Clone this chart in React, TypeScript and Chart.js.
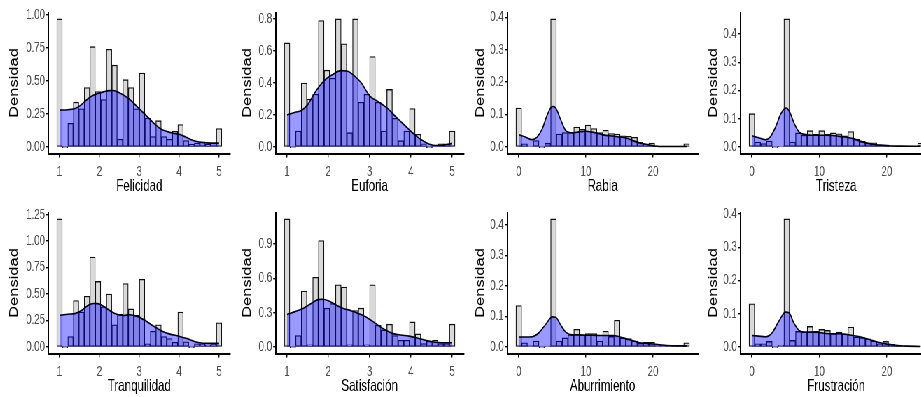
import React, { useEffect, useRef } from 'react';
import { Chart, registerables } from 'chart.js';

Chart.register(...registerables);

const FONT = "'Liberation Sans', Arial, Helvetica, sans-serif";
Chart.defaults.font.family = FONT;

// ---------- data ----------
const likertRange = [1, 5];
const scoreRange = [0, 25];
const likertTicks = ['1', '2', '3', '4', '5'];
const scoreTicks = ['0', '10', '20'];

const yTicksFelicidad = ['0.00', '0.25', '0.50', '0.75', '1.00'];
const yTicksEuforia = ['0.0', '0.2', '0.4', '0.6', '0.8'];
const yTicksTenth = ['0.0', '0.1', '0.2', '0.3', '0.4'];
const yTicksTranquilidad = ['0.00', '0.25', '0.50', '0.75', '1.00', '1.25'];
const yTicksSatisfacion = ['0.0', '0.3', '0.6', '0.9'];

const felicidadBars = [0.97, 0.0, 0.18, 0.34, 0.29, 0.45, 0.76, 0.42, 0.36, 0.74, 0.62, 0.06, 0.51, 0.45, 0.29, 0.56, 0.22, 0.08, 0.20, 0.08, 0.06, 0.12, 0.17, 0.05, 0.02, 0.03, 0.04, 0.02, 0.03, 0.14];
const felicidadDensX = [1.0, 1.2, 1.35, 1.5, 1.65, 1.8, 1.95, 2.1, 2.25, 2.35, 2.5, 2.65, 2.8, 2.95, 3.1, 3.25, 3.4, 3.55, 3.7, 3.85, 4.0, 4.15, 4.3, 4.5, 4.7, 4.85, 5.0];
const felicidadDensY = [0.28, 0.283, 0.288, 0.31, 0.35, 0.385, 0.405, 0.418, 0.427, 0.428, 0.412, 0.385, 0.35, 0.305, 0.26, 0.215, 0.17, 0.135, 0.117, 0.105, 0.097, 0.078, 0.055, 0.038, 0.032, 0.03, 0.03];

const euforiaBars = [0.65, 0.0, 0.10, 0.40, 0.30, 0.33, 0.79, 0.48, 0.43, 0.80, 0.645, 0.09, 0.80, 0.28, 0.33, 0.565, 0.28, 0.10, 0.36, 0.18, 0.04, 0.10, 0.24, 0.08, 0.02, 0.0, 0.01, 0.02, 0.02, 0.10];
const euforiaDensX = [1.0, 1.2, 1.35, 1.5, 1.7, 1.9, 2.1, 2.3, 2.45, 2.65, 2.8, 3.0, 3.2, 3.45, 3.65, 3.85, 4.1, 4.3, 4.45, 4.6, 4.8, 5.0];
const euforiaDensY = [0.2, 0.218, 0.228, 0.265, 0.35, 0.415, 0.452, 0.477, 0.475, 0.44, 0.4, 0.32, 0.285, 0.237, 0.185, 0.135, 0.075, 0.038, 0.018, 0.01, 0.013, 0.023];

const rabiaBars = [0.12, 0.01, 0.003, 0.02, 0.0, 0.012, 0.395, 0.04, 0.045, 0.045, 0.062, 0.055, 0.068, 0.057, 0.045, 0.052, 0.042, 0.04, 0.035, 0.033, 0.03, 0.015, 0.01, 0.012, 0.003, 0.002, 0.002, 0.002, 0.002, 0.01];
const rabiaDensX = [0, 1, 2, 2.7, 3.5, 4.2, 5, 5.5, 6.2, 7, 8, 9, 10, 11, 12, 13, 14, 15, 16, 17, 18, 19, 20, 21, 23, 25];
const rabiaDensY = [0.038, 0.031, 0.023, 0.03, 0.056, 0.097, 0.125, 0.121, 0.087, 0.051, 0.044, 0.047, 0.049, 0.046, 0.041, 0.036, 0.034, 0.031, 0.028, 0.02, 0.013, 0.008, 0.004, 0.002, 0.002, 0.002];

const tristezaBars = [0.118, 0.018, 0.012, 0.021, 0.0, 0.004, 0.453, 0.018, 0.05, 0.042, 0.058, 0.045, 0.058, 0.045, 0.05, 0.047, 0.04, 0.055, 0.028, 0.02, 0.015, 0.015, 0.008, 0.008, 0.004, 0.002, 0.002, 0.002, 0.002, 0.014];
const tristezaDensX = [0, 1, 2, 2.7, 3.5, 4.3, 5.1, 5.6, 6.3, 7, 8, 9, 10, 11, 12, 13, 14, 15, 16, 17, 18, 19, 20, 22, 25];
const tristezaDensY = [0.04, 0.033, 0.026, 0.035, 0.07, 0.118, 0.138, 0.124, 0.082, 0.053, 0.044, 0.042, 0.042, 0.042, 0.041, 0.038, 0.035, 0.03, 0.021, 0.014, 0.009, 0.007, 0.005, 0.0035, 0.003];

const tranquilidadBars = [1.21, 0.0, 0.10, 0.44, 0.33, 0.48, 0.85, 0.62, 0.38, 0.50, 0.21, 0.31, 0.60, 0.36, 0.30, 0.64, 0.03, 0.15, 0.21, 0.10, 0.08, 0.045, 0.33, 0.05, 0.0, 0.03, 0.03, 0.02, 0.03, 0.23];
const tranquilidadDensX = [1.0, 1.2, 1.4, 1.55, 1.7, 1.85, 1.95, 2.05, 2.2, 2.4, 2.6, 2.75, 2.95, 3.15, 3.35, 3.55, 3.75, 4.0, 4.2, 4.4, 4.6, 4.8, 5.0];
const tranquilidadDensY = [0.30, 0.31, 0.318, 0.345, 0.39, 0.412, 0.41, 0.398, 0.36, 0.315, 0.298, 0.305, 0.29, 0.25, 0.2, 0.155, 0.125, 0.102, 0.08, 0.05, 0.036, 0.035, 0.035];

const satisfacionBars = [1.12, 0.0, 0.10, 0.49, 0.02, 0.61, 0.93, 0.34, 0.38, 0.545, 0.525, 0.02, 0.32, 0.34, 0.02, 0.545, 0.19, 0.15, 0.20, 0.10, 0.06, 0.06, 0.22, 0.115, 0.03, 0.05, 0.06, 0.03, 0.03, 0.20];
const satisfacionDensX = [1.0, 1.2, 1.4, 1.6, 1.75, 1.85, 2.0, 2.15, 2.35, 2.55, 2.75, 2.95, 3.15, 3.35, 3.55, 3.75, 3.95, 4.15, 4.35, 4.55, 4.75, 5.0];
const satisfacionDensY = [0.285, 0.31, 0.34, 0.385, 0.415, 0.418, 0.405, 0.375, 0.34, 0.318, 0.29, 0.255, 0.205, 0.155, 0.12, 0.105, 0.096, 0.08, 0.06, 0.045, 0.038, 0.038];

const aburrimientoBars = [0.136, 0.014, 0.005, 0.02, 0.0, 0.003, 0.42, 0.02, 0.03, 0.04, 0.058, 0.04, 0.044, 0.044, 0.02, 0.052, 0.035, 0.088, 0.03, 0.028, 0.02, 0.012, 0.016, 0.016, 0.005, 0.005, 0.004, 0.003, 0.003, 0.014];
const aburrimientoDensX = [0, 1, 2, 3, 4, 5, 5.5, 6.2, 7, 8, 9, 10, 11, 12, 13, 14, 15, 16, 17, 18, 19, 20, 21, 22, 23.5, 25];
const aburrimientoDensY = [0.033, 0.033, 0.034, 0.047, 0.074, 0.099, 0.098, 0.074, 0.049, 0.04, 0.04, 0.039, 0.039, 0.038, 0.038, 0.038, 0.034, 0.027, 0.021, 0.014, 0.012, 0.01, 0.0075, 0.005, 0.004, 0.004];

const frustracionBars = [0.13, 0.01, 0.01, 0.017, 0.0, 0.005, 0.385, 0.02, 0.047, 0.045, 0.062, 0.047, 0.053, 0.05, 0.04, 0.045, 0.04, 0.06, 0.03, 0.028, 0.025, 0.018, 0.01, 0.017, 0.008, 0.006, 0.004, 0.002, 0.002, 0.002];
const frustracionDensX = [0, 1, 2, 3, 4, 5, 5.5, 6.2, 7, 8, 9, 10, 11, 12, 13, 14, 15, 16, 17, 18, 19, 20, 21, 22, 23, 25];
const frustracionDensY = [0.035, 0.033, 0.031, 0.043, 0.078, 0.105, 0.103, 0.073, 0.05, 0.045, 0.045, 0.044, 0.041, 0.04, 0.04, 0.038, 0.035, 0.031, 0.025, 0.019, 0.013, 0.009, 0.006, 0.004, 0.003, 0.002];

// ---------- layout (in page pixels, horizontally squeezed figure) ----------
const SX = 0.7;
const COLS = [
  { cell: 0, L: 48.5, R: 230 },
  { cell: 233, L: 275.5, R: 463.5 },
  { cell: 466, L: 507, R: 698 },
  { cell: 699, L: 740, R: 932 },
];
const ROW_TOPS = [0, 200];
const CANVAS_H = 200;
const PLOT_TOP = 12.5;
const PLOT_H = 141;

type PanelDef = {
  title: string;
  bars: number[];
  dx: number[];
  dy: number[];
  range: number[];
  xTicks: string[];
  yTicks: string[];
  col: number;
  row: number;
};

const panels: PanelDef[] = [
  { title: 'Felicidad', bars: felicidadBars, dx: felicidadDensX, dy: felicidadDensY, range: likertRange, xTicks: likertTicks, yTicks: yTicksFelicidad, col: 0, row: 0 },
  { title: 'Euforia', bars: euforiaBars, dx: euforiaDensX, dy: euforiaDensY, range: likertRange, xTicks: likertTicks, yTicks: yTicksEuforia, col: 1, row: 0 },
  { title: 'Rabia', bars: rabiaBars, dx: rabiaDensX, dy: rabiaDensY, range: scoreRange, xTicks: scoreTicks, yTicks: yTicksTenth, col: 2, row: 0 },
  { title: 'Tristeza', bars: tristezaBars, dx: tristezaDensX, dy: tristezaDensY, range: scoreRange, xTicks: scoreTicks, yTicks: yTicksTenth, col: 3, row: 0 },
  { title: 'Tranquilidad', bars: tranquilidadBars, dx: tranquilidadDensX, dy: tranquilidadDensY, range: likertRange, xTicks: likertTicks, yTicks: yTicksTranquilidad, col: 0, row: 1 },
  { title: 'Satisfación', bars: satisfacionBars, dx: satisfacionDensX, dy: satisfacionDensY, range: likertRange, xTicks: likertTicks, yTicks: yTicksSatisfacion, col: 1, row: 1 },
  { title: 'Aburrimiento', bars: aburrimientoBars, dx: aburrimientoDensX, dy: aburrimientoDensY, range: scoreRange, xTicks: scoreTicks, yTicks: yTicksTenth, col: 2, row: 1 },
  { title: 'Frustración', bars: frustracionBars, dx: frustracionDensX, dy: frustracionDensY, range: scoreRange, xTicks: scoreTicks, yTicks: yTicksTenth, col: 3, row: 1 },
];

function Panel({ p }: { p: PanelDef }) {
  const ref = useRef<HTMLCanvasElement>(null);
  const col = COLS[p.col];
  const left = col.cell / SX;
  const width = (col.R + 2 - col.cell) / SX;
  const yAxisW = (col.L - col.cell) / SX;
  const xAxisH = CANVAS_H - PLOT_TOP - PLOT_H;

  useEffect(() => {
    if (!ref.current) return;
    const [lo, hi] = p.range;
    const n = p.bars.length;
    const bw = (hi - lo) / (n - 1);
    const centers = p.bars.map((_, k) => lo + k * bw);
    const spanLo = lo - bw / 2;
    const spanHi = hi + bw / 2;
    const ex = 0.05 * (spanHi - spanLo);
    const yMax = Math.max(...p.bars, ...p.dy);

    const axisCommon = {
      grid: {
        display: true,
        drawOnChartArea: false,
        drawTicks: true,
        color: '#000',
        tickColor: '#000',
        tickWidth: 1.4,
        lineWidth: 1.4,
        offset: false,
      },
      border: { display: true, color: '#000', width: 2 },
    };

    const chart = new Chart(ref.current, {
      type: 'bar',
      data: {
        datasets: [
          {
            type: 'line',
            data: p.dx.map((x, i) => ({ x, y: p.dy[i] })),
            borderColor: '#000',
            borderWidth: 1.6,
            backgroundColor: 'rgba(0,0,255,0.4)',
            fill: 'origin',
            pointRadius: 0,
            cubicInterpolationMode: 'monotone',
            order: 0,
          } as any,
          {
            type: 'bar',
            data: centers.map((x, i) => ({ x, y: p.bars[i] })),
            backgroundColor: '#d9d9d9',
            borderColor: '#111',
            borderWidth: 1.3,
            borderSkipped: false,
            barPercentage: 1,
            categoryPercentage: 1,
            minBarLength: 1,
            order: 1,
          } as any,
        ],
      },
      options: {
        animation: false,
        responsive: true,
        maintainAspectRatio: false,
        events: [],
        layout: { padding: { top: PLOT_TOP, right: 2 / SX, left: 0, bottom: 0 } },
        plugins: { legend: { display: false }, tooltip: { enabled: false } },
        scales: {
          x: {
            type: 'linear',
            min: spanLo - ex,
            max: spanHi + ex,
            offset: false,
            ...axisCommon,
            grid: { ...axisCommon.grid, tickLength: 4 },
            ticks: {
              autoSkip: false,
              maxRotation: 0,
              color: '#4d4d4d',
              font: { size: 14, family: FONT },
              padding: 6,
              callback: (_v: any, i: number) => p.xTicks[i],
            },
            title: {
              display: true,
              text: p.title,
              color: '#000',
              font: { size: 16.5, family: FONT },
              padding: { top: 0, bottom: 3.6 },
            },
            afterBuildTicks: (s: any) => {
              s.ticks = p.xTicks.map((t) => ({ value: parseFloat(t) }));
            },
            afterFit: (s: any) => {
              s.height = xAxisH;
            },
          },
          y: {
            type: 'linear',
            min: -0.05 * yMax,
            max: 1.05 * yMax,
            ...axisCommon,
            grid: { ...axisCommon.grid, tickLength: 3.5 },
            ticks: {
              autoSkip: false,
              color: '#4d4d4d',
              font: { size: 14, family: FONT },
              padding: 1.4,
              callback: (_v: any, i: number) => p.yTicks[i],
            },
            title: {
              display: true,
              text: 'Densidad',
              color: '#000',
              font: { size: 16.5, family: FONT },
              padding: { top: 10.1, bottom: 0 },
            },
            afterBuildTicks: (s: any) => {
              s.ticks = p.yTicks.map((t) => ({ value: parseFloat(t) }));
            },
            afterFit: (s: any) => {
              s.width = yAxisW;
            },
          },
        },
      } as any,
    });
    return () => chart.destroy();
  }, []);

  return (
    <div
      style={{
        position: 'absolute',
        left,
        top: ROW_TOPS[p.row],
        width,
        height: CANVAS_H,
      }}
    >
      <canvas ref={ref} />
    </div>
  );
}

export default function App() {
  return (
    <div
      style={{
        position: 'absolute',
        left: 0,
        top: 0,
        width: 921,
        height: 397,
        overflow: 'hidden',
        background: '#fff',
      }}
    >
      <div
        style={{
          position: 'absolute',
          left: 0,
          top: 0,
          width: 940 / SX,
          height: 400,
          transform: `scaleX(${SX})`,
          transformOrigin: '0 0',
        }}
      >
        {panels.map((p) => (
          <Panel key={p.title} p={p} />
        ))}
      </div>
    </div>
  );
}
